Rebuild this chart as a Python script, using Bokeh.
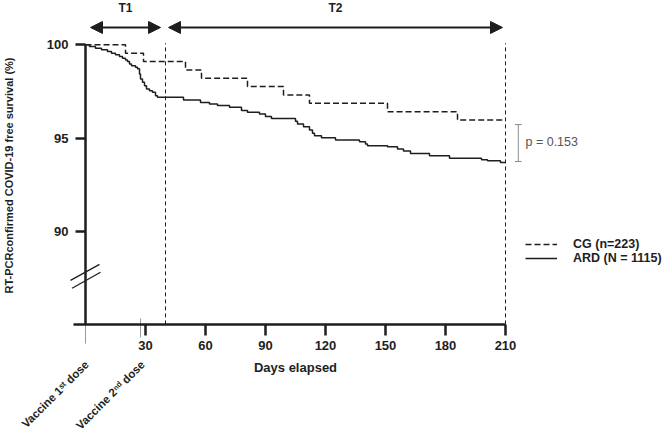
import math
from bokeh.plotting import figure
from bokeh.models import Range1d, FixedTicker, Arrow, NormalHead, Legend, LegendItem
from bokeh.core.properties import value
from bokeh.embed import file_html
from bokeh.resources import INLINE

# ---------------- data ----------------
ard_days = [0, 2, 5, 8, 11, 13, 15, 17, 18.5, 20, 21, 22, 23, 25, 26, 27, 27.5,
            28.5, 29.5, 30.5, 32, 33.5, 35, 36, 49, 57.5, 62, 66, 72, 78, 81, 87,
            90, 93, 105, 106, 109, 112, 113.5, 114.5, 118, 125, 137, 140, 141,
            151, 156, 159, 162.5, 172, 182, 198, 201, 207.5, 210]
ard_surv = [100, 99.91, 99.82, 99.73, 99.64, 99.55, 99.46, 99.37, 99.28, 99.19,
            99.10, 98.97, 98.88, 98.79, 98.71, 98.44, 98.17, 97.99, 97.81, 97.63,
            97.54, 97.45, 97.27, 97.18, 97.04, 96.91, 96.82, 96.74, 96.65, 96.47,
            96.38, 96.29, 96.16, 96.05, 95.90, 95.75, 95.60, 95.43, 95.25, 95.12,
            95.02, 94.89, 94.80, 94.68, 94.59, 94.53, 94.41, 94.30, 94.17, 94.05,
            93.92, 93.83, 93.78, 93.69, 93.69]

cg_days = [0, 20, 29, 50, 58, 81, 99, 112, 151, 186, 210]
cg_surv = [100, 99.55, 99.10, 98.65, 98.21, 97.76, 97.31, 96.86, 96.41, 95.96, 95.96]

x_ticks = [30, 60, 90, 120, 150, 180, 210]
x_tick_labels = ["30", "60", "90", "120", "150", "180", "210"]
y_ticks = [90, 95, 100]
y_tick_labels = ["90", "95", "100"]

series_names = ["CG (n=223)", "ARD (N = 1115)"]
period_names = ["T1", "T2"]
period_start = [2.5, 41.5]
period_end = [37.5, 208.5]
split_days = [40, 210]
dose_names = ["Vaccine 1\u02e2\u1d57 dose", "Vaccine 2\u207f\u1d48 dose"]
dose_days = [0, 28]
x_title = "Days elapsed"
y_title = "RT-PCRconfirmed COVID-19 free survival (%)"
p_text = "p = 0.153"

FONT = "Liberation Sans"
INK = "#1e1e1e"

p = figure(width=664, height=436, output_backend="svg", toolbar_location=None,
           x_range=Range1d(-42.5, 289.5), y_range=Range1d(78.986, 102.377),
           min_border=0, min_border_left=0, min_border_right=0,
           min_border_top=0, min_border_bottom=0)
p.grid.visible = False
p.outline_line_color = None

# axes (placed at data positions)
xa = p.xaxis[0]
xa.fixed_location = 85
xa.bounds = (-6, 210)
xa.ticker = FixedTicker(ticks=x_ticks)
xa.major_label_overrides = dict(zip(x_ticks, x_tick_labels))
xa.minor_tick_line_color = None
xa.major_tick_in = 0
xa.major_tick_out = 11
xa.axis_line_width = 2.5
xa.major_tick_line_width = 2.5
xa.axis_line_color = INK
xa.major_tick_line_color = INK
xa.major_label_text_font = FONT
xa.major_label_text_font_style = "bold"
xa.major_label_text_font_size = "13px"
xa.major_label_text_color = INK
xa.major_label_standoff = 6

ya = p.yaxis[0]
ya.fixed_location = 0
ya.bounds = (85, 100)
ya.ticker = FixedTicker(ticks=y_ticks)
ya.major_label_overrides = dict(zip(y_ticks, y_tick_labels))
ya.minor_tick_line_color = None
ya.major_tick_in = 0
ya.major_tick_out = 10
ya.axis_line_width = 2.5
ya.major_tick_line_width = 2.5
ya.axis_line_color = INK
ya.major_tick_line_color = INK
ya.major_label_text_font = FONT
ya.major_label_text_font_style = "bold"
ya.major_label_text_font_size = "13px"
ya.major_label_text_color = INK
ya.major_label_standoff = 7

# axis titles
p.text(x=[105], y=[82.69], text=[x_title], text_align="center",
       text_baseline="middle", text_font=value(FONT), text_font_style="bold",
       text_font_size="13px", text_color=INK)
p.text(x=[-38.5], y=[92.99], text=[y_title], angle=math.pi / 2,
       text_align="center", text_baseline="middle", text_font=value(FONT),
       text_font_style="bold", text_font_size="11px", text_color=INK)

# vertical dashed separators
p.segment(x0=split_days, y0=[85, 85], x1=split_days, y1=[100.08, 100.08],
          line_color=INK, line_width=1, line_dash="4 3")

# survival curves
r_cg = p.step(cg_days, cg_surv, mode="after", line_color=INK, line_width=1.5,
              line_dash="6 3")
r_ard = p.step(ard_days, ard_surv, mode="after", line_color=INK, line_width=1.5)

# legend
legend = Legend(items=[LegendItem(label=series_names[0], renderers=[r_cg]),
                       LegendItem(label=series_names[1], renderers=[r_ard])],
                location=(525, 171), orientation="vertical",
                padding=0, margin=0, spacing=0, label_height=14, glyph_height=14,
                glyph_width=32, label_standoff=16,
                border_line_color=None, background_fill_alpha=0,
                label_text_font=FONT, label_text_font_style="bold",
                label_text_font_size="12.5px", label_text_color=INK)
p.add_layout(legend)

# period arrows and labels
for s, e in zip(period_start, period_end):
    p.add_layout(Arrow(x_start=s, y_start=100.93, x_end=e, y_end=100.93,
                       line_color=INK, line_width=2,
                       start=NormalHead(size=12, fill_color=INK, line_color=INK),
                       end=NormalHead(size=12, fill_color=INK, line_color=INK)))
p.text(x=[(s + e) / 2 for s, e in zip(period_start, period_end)],
       y=[102.0, 102.0], text=period_names, text_align="center",
       text_baseline="middle", text_font=value(FONT), text_font_style="bold",
       text_font_size="12px", text_color=INK)

# p-value bracket
bx = 216.4
p.segment(x0=[bx, bx - 1.7, bx - 1.7], y0=[95.72, 95.72, 93.74],
          x1=[bx, bx + 1.7, bx + 1.7], y1=[93.74, 95.72, 93.74],
          line_color="#8a8a8a", line_width=1)
p.text(x=[220], y=[94.77], text=[p_text], text_align="left",
       text_baseline="middle", text_font=value(FONT), text_font_size="12.5px",
       text_color="#555555")

# axis break marks
p.segment(x0=[-7.5, -6.7], y0=[87.36, 86.94], x1=[7, 7.5], y1=[88.22, 87.80],
          line_color=INK, line_width=1.3)

# grey leader lines below axis
p.segment(x0=[dose_days[0], dose_days[1] - 0.5], y0=[85, 85.32],
          x1=[dose_days[0], dose_days[1] - 0.5], y1=[83.97, 84.3],
          line_color="#9a9a9a", line_width=1)

# rotated dose labels
p.text(x=[d + 0.6 for d in dose_days], y=[82.95, 82.95], text=dose_names,
       angle=math.pi / 4, text_align="right", text_baseline="middle",
       text_font=value(FONT), text_font_style="bold", text_font_size="11.5px",
       text_color=INK)

open("out.html", "w").write(file_html(p, INLINE))
